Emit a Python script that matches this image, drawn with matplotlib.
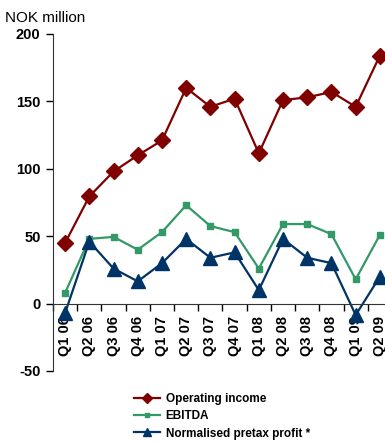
import numpy as np
import matplotlib.pyplot as plt

plt.rcParams['font.family'] = ['Liberation Sans', 'DejaVu Sans']
plt.rcParams['axes.unicode_minus'] = False

quarters = ['Q1 06', 'Q2 06', 'Q3 06', 'Q4 06', 'Q1 07', 'Q2 07', 'Q3 07',
            'Q4 07', 'Q1 08', 'Q2 08', 'Q3 08', 'Q4 08', 'Q1 09', 'Q2 09']
operating_income = [45, 79.5, 98, 110, 121, 160, 146, 152, 111.5, 151, 153, 157, 146, 184]
ebitda = [8, 48, 49.5, 40, 53, 73, 57.5, 53, 26, 59, 59, 51.5, 18, 51]
pretax_profit = [-7, 46, 26, 16.5, 30, 48, 34, 38, 10, 48, 34, 30, -8.5, 20]

fig = plt.figure(figsize=(3.85, 4.43), dpi=100)
ax = fig.add_axes([53/385, 1-371/443, 339/385, 337/443])

x = np.arange(len(quarters))
ax.plot(x, operating_income, color='#800000', marker='D', markersize=8, lw=1.6,
        label='Operating income')
ax.plot(x, ebitda, color='#339966', marker='s', markersize=5, lw=1.6,
        label='EBITDA')
ax.plot(x, pretax_profit, color='#003366', marker='^', markersize=10, lw=1.6,
        label='Normalised pretax profit *')

ax.set_xlim(-0.5, len(quarters) - 0.5)
ax.set_ylim(-50, 200)
ax.set_yticks([-50, 0, 50, 100, 150, 200])
ax.tick_params(axis='y', labelsize=10.5, length=5, width=1, pad=4)
for t in ax.get_yticklabels():
    t.set_fontweight('bold')

ax.spines['top'].set_visible(False)
ax.spines['right'].set_visible(False)
ax.spines['bottom'].set_position(('data', 0))
ax.spines['left'].set_color('#333333')
ax.spines['bottom'].set_color('#333333')

ax.set_xticks(np.arange(len(quarters) + 1) - 0.5)
ax.set_xticklabels([])
ax.set_xticks(x, minor=True)
ax.set_xticklabels(quarters, minor=True, rotation=90, fontweight='bold', fontsize=10.5)
ax.tick_params(axis='x', which='major', length=5, width=1, direction='out')
ax.tick_params(axis='x', which='minor', length=0, pad=9)

fig.text(5/385, 1-18/443, 'NOK million', fontsize=11, va='center')

leg = fig.legend(loc='upper left', bbox_to_anchor=(0.32, 0.137), frameon=False,
                 prop={'weight': 'bold', 'size': 8.5}, handlelength=2.2,
                 labelspacing=0.45, markerscale=0.6, handletextpad=0.5)

fig.savefig('out.png', dpi=100)
